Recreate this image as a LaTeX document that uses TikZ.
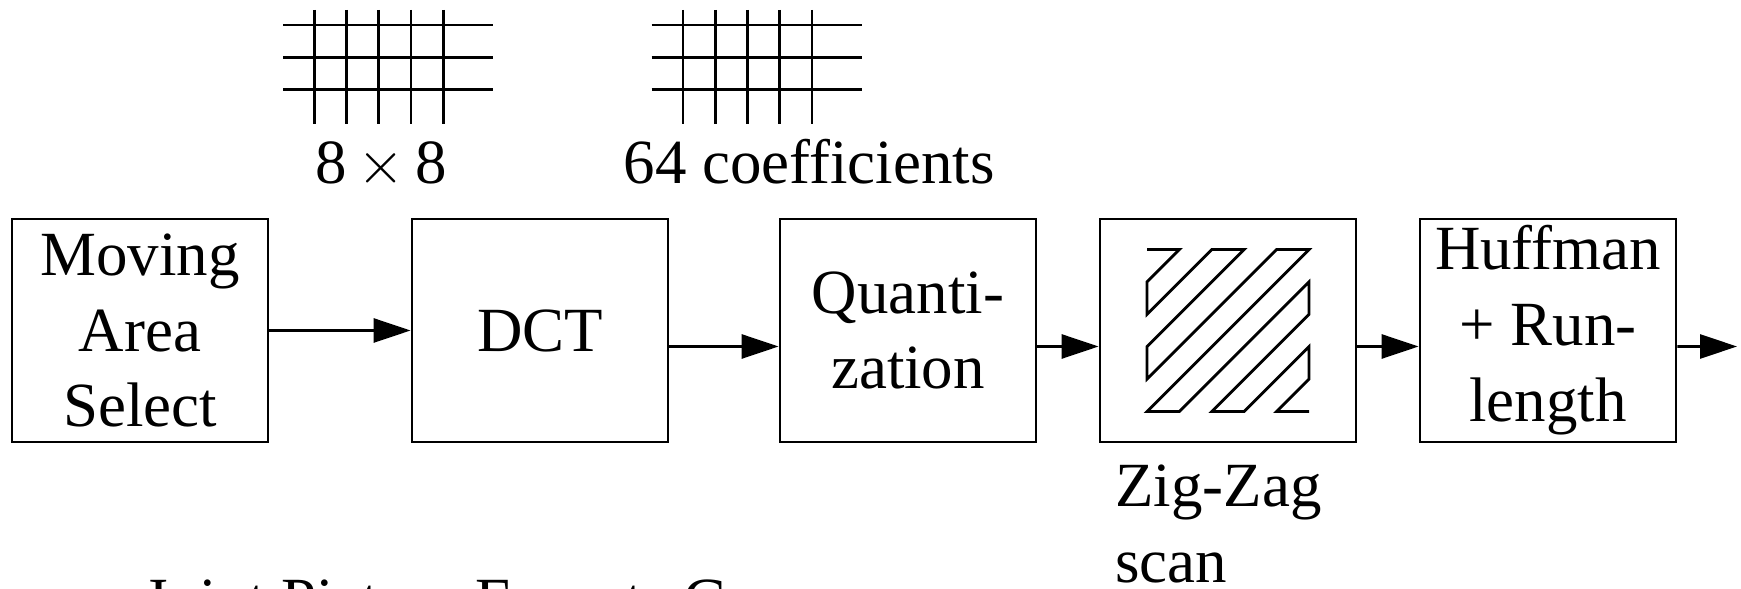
\documentclass[tikz,border=0pt]{standalone}
\usepackage{fontspec}
\setmainfont{Liberation Serif}
\usetikzlibrary{arrows.meta, calc}
\newcommand{\blkfont}{\fontsize{17.9}{21.6}\selectfont}
\tikzset{
  every picture/.style={line width=0.8pt},
  box/.style={draw, minimum width=2.56cm, minimum height=2.23cm, inner sep=0pt, align=center, font=\blkfont},
  arrow/.style={-{Triangle[length=3.7mm, width=2.4mm]}},
  lbl/.style={font=\blkfont, inner sep=0pt},
}
\newcommand{\coefgrid}[1]{ % x of left end
  \foreach \row in {0,1,2} \draw (#1,5.64-0.322*\row) -- ++(2.10,0);
  \foreach \col in {0,...,4} \draw (#1+0.313+0.3225*\col,5.79) -- (#1+0.313+0.3225*\col,4.65);
}

\begin{document}
\begin{tikzpicture}
  \useasboundingbox (0,0) rectangle (17.41,5.89);
  % grids
  \coefgrid{2.83}
  \coefgrid{6.517}
  \node[lbl, anchor=base] (blk) at (3.815,4.05) {8\,$\times$\,8};
  \node[lbl, anchor=base] (coef) at (8.09,4.05) {64 coefficients};
  % blocks
  \node[box] (msel) at (1.40,2.585) {Moving\\Area\\Select};
  \node[box] (dct) at (5.40,2.585) {DCT};
  \node[box] (quant) at (9.08,2.585) {Quanti-\\zation};
  \node[box] (zigzag) at (12.28,2.585) {};
  \node[box] (huff) at (15.48,2.585) {Huffman\\+ Run-\\length};
  \begin{scope}[shift={($(zigzag.center)+(-0.81,0.81)$)}, x=0.324cm, y=-0.324cm]
    \draw (0,0) -- (1,0) -- (0,1) -- (0,2) -- (2,0) -- (3,0) -- (0,3) -- (0,4) -- (4,0) -- (5,0)
      -- (0,5) -- (1,5) -- (5,1) -- (5,2) -- (2,5) -- (3,5) -- (5,3) -- (5,4) -- (4,5) -- (5,5);
  \end{scope}
  \node[lbl, anchor=base west, align=left] (zzname) at (11.14,0.063) {Zig-Zag\\scan};
  % arrows
  \coordinate (out) at (17.37,2.425);
  \draw[arrow] (msel) -- (dct);
  \draw[arrow] ([yshift=-1.6mm]dct.east) -- ([yshift=-1.6mm]quant.west);
  \draw[arrow] ([yshift=-1.6mm]quant.east) -- ([yshift=-1.6mm]zigzag.west);
  \draw[arrow] ([yshift=-1.6mm]zigzag.east) -- ([yshift=-1.6mm]huff.west);
  \draw[arrow] ([yshift=-1.6mm]huff.east) -- (out);
  \node[lbl, anchor=base west] (jpeg) at (0.61,-0.32) {=\hspace{0.455cm}Joint Picture Experts Group};
\end{tikzpicture}
\end{document}
